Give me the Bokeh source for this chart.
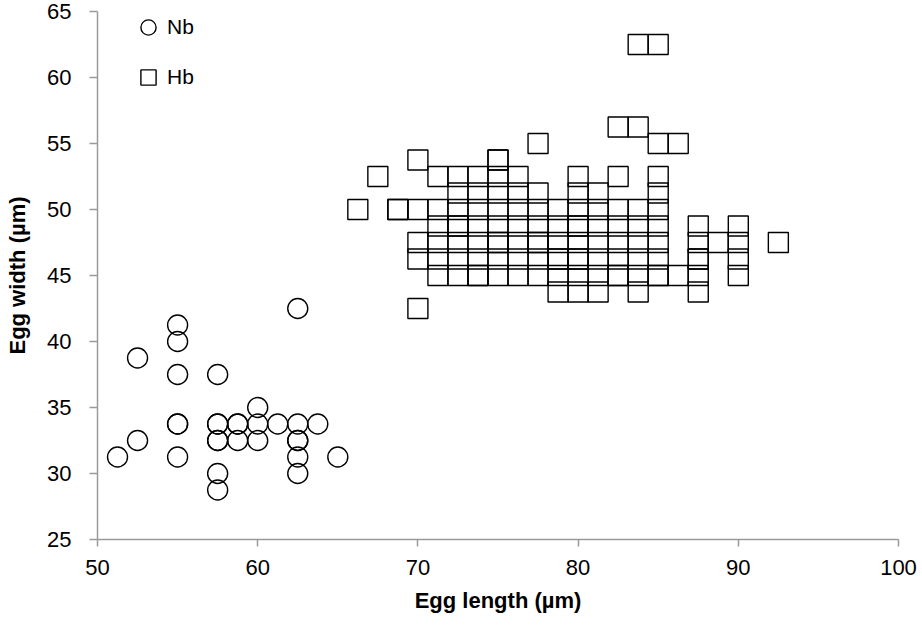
from bokeh.plotting import figure
from bokeh.models import Legend, LegendItem, Range1d, FixedTicker
from bokeh.embed import file_html
from bokeh.resources import INLINE

# Nb eggs: length and width (µm)
nb_length = [51.25, 52.5, 52.5,
             55, 55, 55, 55, 55, 55,
             57.5, 57.5, 57.5, 57.5, 57.5, 57.5, 57.5,
             58.75, 58.75, 58.75,
             60, 60, 60,
             61.25,
             62.5, 62.5, 62.5, 62.5, 62.5, 62.5,
             63.75,
             65]
nb_width = [31.25, 38.75, 32.5,
            41.25, 40, 37.5, 33.75, 33.75, 31.25,
            37.5, 33.75, 33.75, 32.5, 32.5, 30, 28.75,
            33.75, 33.75, 32.5,
            35, 33.75, 32.5,
            33.75,
            42.5, 33.75, 32.5, 32.5, 31.25, 30,
            33.75,
            31.25]

# Hb eggs: length and width (µm)
hb_length = [66.25,
             67.5,
             68.75, 68.75,
             70, 70, 70, 70, 70,
             71.25, 71.25, 71.25, 71.25, 71.25, 71.25,
             72.5, 72.5, 72.5, 72.5, 72.5, 72.5, 72.5, 72.5,
             73.75, 73.75, 73.75, 73.75, 73.75, 73.75, 73.75, 73.75,
             75, 75, 75, 75, 75, 75, 75, 75, 75, 75,
             76.25, 76.25, 76.25, 76.25, 76.25, 76.25, 76.25,
             77.5, 77.5, 77.5, 77.5, 77.5, 77.5, 77.5, 77.5,
             78.75, 78.75, 78.75, 78.75, 78.75, 78.75, 78.75,
             80, 80, 80, 80, 80, 80, 80, 80, 80, 80,
             81.25, 81.25, 81.25, 81.25, 81.25, 81.25, 81.25,
             82.5, 82.5, 82.5, 82.5, 82.5, 82.5, 82.5, 82.5,
             83.75, 83.75, 83.75, 83.75, 83.75, 83.75, 83.75, 83.75,
             85, 85, 85, 85, 85, 85, 85, 85, 85, 85,
             86.25, 86.25,
             87.5, 87.5, 87.5, 87.5, 87.5, 87.5,
             88.75,
             90, 90, 90, 90,
             92.5]
hb_width = [50,
            52.5,
            50, 50,
            53.75, 50, 47.5, 46.25, 42.5,
            52.5, 50, 48.75, 47.5, 46.25, 45,
            52.5, 51.25, 50, 48.75, 48.75, 47.5, 46.25, 45,
            52.5, 51.25, 50, 48.75, 47.5, 46.25, 45, 45,
            53.75, 53.75, 52.5, 51.25, 50, 48.75, 47.5, 47.5, 46.25, 45,
            52.5, 51.25, 50, 48.75, 47.5, 46.25, 45,
            55, 51.25, 50, 48.75, 47.5, 47.5, 46.25, 45,
            50, 48.75, 47.5, 46.25, 46.25, 45, 43.75,
            52.5, 51.25, 50, 48.75, 48.75, 47.5, 46.25, 46.25, 45, 43.75,
            51.25, 50, 48.75, 47.5, 46.25, 45, 43.75,
            56.25, 52.5, 50, 48.75, 47.5, 46.25, 45, 45,
            62.5, 56.25, 50, 48.75, 47.5, 46.25, 45, 43.75,
            62.5, 55, 52.5, 51.25, 50, 48.75, 47.5, 46.25, 45, 45,
            55, 45,
            48.75, 47.5, 46.25, 46.25, 45, 43.75,
            47.5,
            48.75, 47.5, 46.25, 45,
            47.5]

x_ticks = [50, 60, 70, 80, 90, 100]
y_ticks = [25, 30, 35, 40, 45, 50, 55, 60, 65]

FONT = "Liberation Sans"
AXIS_GREY = "#9a9a9a"

p = figure(width=922, height=628, output_backend="svg", toolbar_location=None,
           x_range=Range1d(50, 100), y_range=Range1d(25, 65),
           min_border_left=97, min_border_right=24,
           min_border_top=11, min_border_bottom=89)

p.outline_line_color = None
p.xgrid.visible = False
p.ygrid.visible = False
p.background_fill_color = "white"
p.border_fill_color = "white"

p.xaxis.ticker = FixedTicker(ticks=x_ticks)
p.yaxis.ticker = FixedTicker(ticks=y_ticks)
p.xaxis.axis_label = "Egg length (µm)"
p.yaxis.axis_label = "Egg width (µm)"

for ax, tick_out in ((p.xaxis, 7), (p.yaxis, 8)):
    ax.axis_line_color = AXIS_GREY
    ax.axis_line_width = 1.5
    ax.major_tick_line_color = AXIS_GREY
    ax.major_tick_line_width = 1.5
    ax.major_tick_in = 0
    ax.major_tick_out = tick_out
    ax.minor_tick_line_color = None
    ax.major_label_text_font = FONT
    ax.major_label_text_font_size = "22px"
    ax.major_label_text_color = "black"
    ax.axis_label_text_font = FONT
    ax.axis_label_text_font_size = "22px"
    ax.axis_label_text_font_style = "bold"
    ax.axis_label_text_color = "black"

p.yaxis.major_label_standoff = 18
p.xaxis.major_label_standoff = 13
p.yaxis.axis_label_standoff = 14
p.xaxis.axis_label_standoff = 10

r_nb = p.scatter(nb_length, nb_width, marker="circle", size=20,
                 fill_color=None, line_color="black", line_width=1.4)
r_hb = p.scatter(hb_length, hb_width, marker="square", size=20,
                 fill_color=None, line_color="black", line_width=1.4)

legend = Legend(items=[LegendItem(label="Nb", renderers=[r_nb]),
                       LegendItem(label="Hb", renderers=[r_hb])],
                location=(32, 443), glyph_width=38, glyph_height=38,
                label_standoff=-14, spacing=12, padding=0, margin=0,
                border_line_color=None, background_fill_alpha=0,
                label_text_font=FONT, label_text_font_size="21px",
                label_text_color="black")
p.add_layout(legend)

open("out.html", "w").write(file_html(p, INLINE))
